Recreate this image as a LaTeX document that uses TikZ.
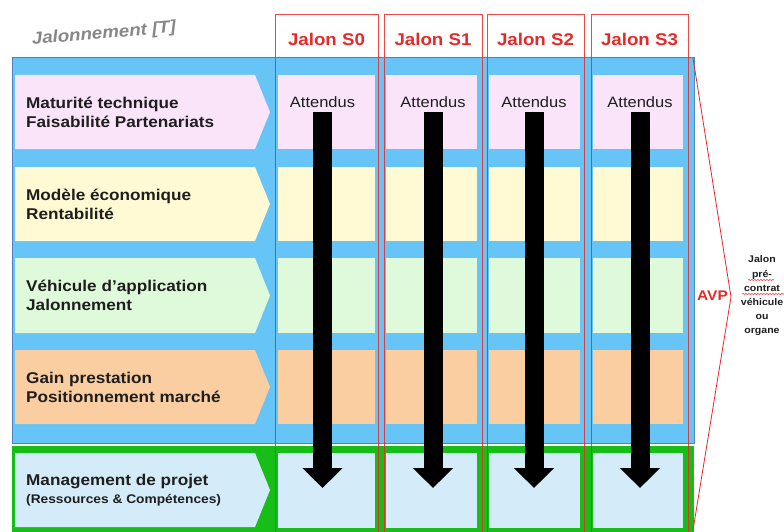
\documentclass[tikz,border=0pt]{standalone}
\usepackage{fontspec}
\setmainfont{Liberation Sans}[FakeStretch=1.1]
\usetikzlibrary{arrows.meta,positioning,decorations.pathmorphing}
\definecolor{JalBlue}{RGB}{102,196,246}
\definecolor{JalBlueEdge}{RGB}{80,130,190}
\definecolor{JalPink}{RGB}{250,228,250}
\definecolor{JalYellow}{RGB}{255,250,212}
\definecolor{JalGreenPale}{RGB}{222,250,218}
\definecolor{JalOrange}{RGB}{250,206,160}
\definecolor{JalSky}{RGB}{212,236,250}
\definecolor{JalGreen}{RGB}{24,190,24}
\definecolor{JalRed}{RGB}{232,40,40}
\definecolor{JalGray}{RGB}{135,135,135}
\definecolor{JalInk}{RGB}{30,30,30}
\tikzset{
  etiquette/.style={anchor=west, align=left, inner sep=0pt, text=JalInk,
                    font=\fontsize{15.6}{19}\selectfont\bfseries},
  entete/.style={font=\fontsize{17}{20}\selectfont\bfseries, text=JalRed},
  attendu/.style={font=\fontsize{15}{18}\selectfont, text=JalInk, anchor=base,
                  inner xsep=0pt, inner ysep=4.7pt},
  cellule/.style={fill=JalSky, inner sep=0pt},
  fleche/.style={line width=19pt, -{Triangle[width=39pt,length=20pt]}, shorten >=2.5pt},
  colonne/.style={draw=JalRed, draw opacity=0.85, line width=0.8pt},
  titre/.style={font=\fontsize{17}{20}\selectfont\bfseries\itshape, text=JalGray},
  avp/.style={font=\fontsize{14}{16}\selectfont\bfseries, text=JalRed, inner sep=0pt},
  note/.style={font=\fontsize{9.6}{14.2}\selectfont\bfseries, text=JalInk, align=center, inner sep=0pt},
  souligne/.style={JalRed, line width=0.6pt, decorate,
                   decoration={snake, amplitude=0.5pt, segment length=3pt}},
}
\begin{document}
\begin{tikzpicture}[x=1pt,y=-1pt]
  \useasboundingbox (0,0) rectangle (784,532);

  % Fonds
  \fill[JalBlue] (12,57) rectangle (694,443);
  \draw[JalBlueEdge, line width=0.8pt] (12,57) rectangle (694,443);
  \fill[JalGreen] (12,446) rectangle (694,534);

  % Titre
  \node[titre, rotate=5] (titre) at (104,34) {Jalonnement [T]};

  % Lignes thematiques
  \foreach \yh/\yb/\couleur/\texte [count=\r] in {
      75/149/JalPink/{Maturité technique\\Faisabilité Partenariats},
      167/241/JalYellow/{Modèle économique\\Rentabilité},
      258/333/JalGreenPale/{Véhicule d’application\\Jalonnement},
      350/424/JalOrange/{Gain prestation\\Positionnement marché}}{
    \fill[\couleur] (15,\yh) -- (255,\yh) -- (270,{(\yh+\yb)/2}) -- (255,\yb) -- (15,\yb) -- cycle;
    \node[etiquette] (lib\r) at (26,{(\yh+\yb)/2}) {\texte};
    \foreach \xg/\xd in {278/375,386/477,489/580,593/683}
      \fill[\couleur] (\xg,\yh) rectangle (\xd,\yb);
  }

  % Ligne management
  \fill[JalSky] (15,453) -- (255,453) -- (270,490) -- (255,527) -- (15,527) -- cycle;
  \node[etiquette, font=\fontsize{15.6}{18}\selectfont\bfseries] (gestion) at (26,490)
    {Management de projet\\{\fontsize{12.5}{15}\selectfont (Ressources \& Compétences)}};
  \foreach \xg/\xd [count=\c from 0] in {278/375,386/477,489/580,593/683}
    \node[cellule, minimum width={\xd-\xg}, minimum height=75] (gest\c) at ({(\xg+\xd)/2},490.5) {};

  % Jalons S0 a S3
  \foreach \xg/\xd/\xf [count=\c from 0] in {275/378/322.5, 384/482/433, 487/584/534, 591/688/640}{
    \draw[colonne] (\xg,14) rectangle (\xd,534);
    \node[entete] (jal\c) at ({(\xg+\xd)/2},39) {Jalon S\c};
    \node[attendu] (att\c) at (\xf,107.3) {Attendus};
    \draw[fleche] (att\c.south) -- (att\c.south |- gest\c.center);
  }

  % AVP
  \coordinate (avpH) at (693,58);
  \coordinate (avpP) at (731,297);
  \coordinate (avpB) at (693,530);
  \draw[JalRed, line width=0.8pt] (avpH) -- (avpP) -- (avpB);
  \node[avp] (avp) at (712.5,296) {AVP};
  \node[note] (precontrat) at (762,296) {Jalon\\pré-\\contrat\\véhicule\\ou\\organe};
  \draw[souligne] (748,280) -- (774,280);
  \draw[souligne] (742,294) -- (784,294);
\end{tikzpicture}
\end{document}
